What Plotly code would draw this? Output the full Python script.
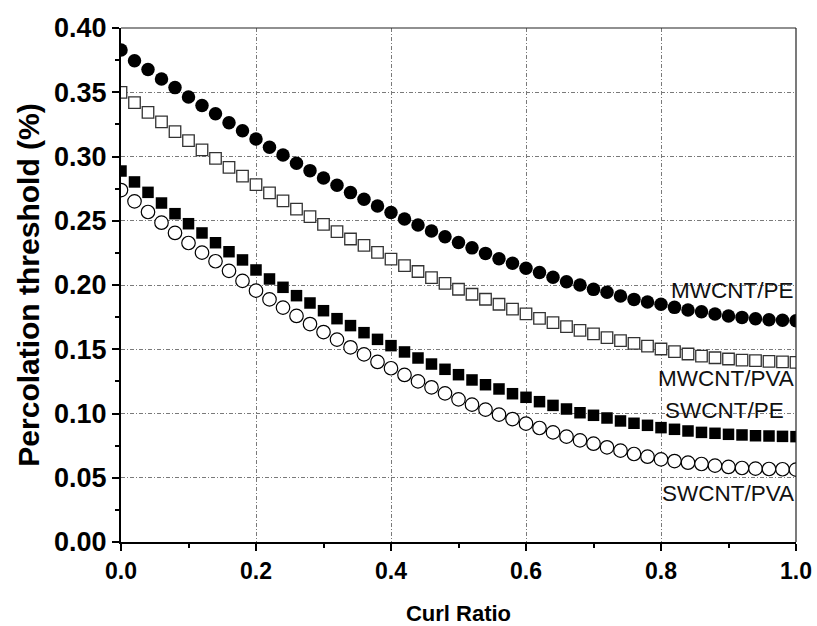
import plotly.graph_objects as go

curl_ratio = [0.00, 0.02, 0.04, 0.06, 0.08, 0.10, 0.12, 0.14, 0.16, 0.18,
              0.20, 0.22, 0.24, 0.26, 0.28, 0.30, 0.32, 0.34, 0.36, 0.38,
              0.40, 0.42, 0.44, 0.46, 0.48, 0.50, 0.52, 0.54, 0.56, 0.58,
              0.60, 0.62, 0.64, 0.66, 0.68, 0.70, 0.72, 0.74, 0.76, 0.78,
              0.80, 0.82, 0.84, 0.86, 0.88, 0.90, 0.92, 0.94, 0.96, 0.98, 1.00]

mwcnt_pe = [0.3829, 0.3745, 0.3677, 0.3603, 0.3536, 0.3463, 0.3397, 0.3332, 0.3263, 0.3200,
            0.3136, 0.3072, 0.3012, 0.2947, 0.2890, 0.2833, 0.2776, 0.2719, 0.2667, 0.2615,
            0.2565, 0.2514, 0.2467, 0.2420, 0.2376, 0.2331, 0.2289, 0.2246, 0.2205, 0.2169,
            0.2131, 0.2097, 0.2060, 0.2026, 0.2000, 0.1966, 0.1943, 0.1914, 0.1888, 0.1868,
            0.1850, 0.1826, 0.1805, 0.1792, 0.1774, 0.1759, 0.1748, 0.1738, 0.1730, 0.1725, 0.1722]

mwcnt_pva = [0.3499, 0.3420, 0.3344, 0.3270, 0.3193, 0.3123, 0.3051, 0.2986, 0.2916, 0.2848,
             0.2781, 0.2717, 0.2654, 0.2591, 0.2532, 0.2472, 0.2415, 0.2358, 0.2308, 0.2254,
             0.2202, 0.2151, 0.2105, 0.2057, 0.2013, 0.1967, 0.1928, 0.1889, 0.1850, 0.1812,
             0.1775, 0.1741, 0.1707, 0.1676, 0.1647, 0.1619, 0.1590, 0.1567, 0.1546, 0.1525,
             0.1502, 0.1481, 0.1463, 0.1447, 0.1434, 0.1424, 0.1416, 0.1411, 0.1406, 0.1401, 0.1398]

swcnt_pe = [0.2887, 0.2802, 0.2721, 0.2638, 0.2555, 0.2477, 0.2405, 0.2329, 0.2259, 0.2195,
            0.2117, 0.2047, 0.1982, 0.1917, 0.1860, 0.1800, 0.1738, 0.1684, 0.1629, 0.1577,
            0.1528, 0.1479, 0.1432, 0.1385, 0.1344, 0.1302, 0.1261, 0.1224, 0.1191, 0.1154,
            0.1126, 0.1092, 0.1063, 0.1035, 0.1006, 0.0986, 0.0965, 0.0942, 0.0924, 0.0908,
            0.0890, 0.0877, 0.0864, 0.0853, 0.0846, 0.0838, 0.0833, 0.0827, 0.0825, 0.0822, 0.0820]

swcnt_pva = [0.2739, 0.2651, 0.2568, 0.2485, 0.2405, 0.2327, 0.2252, 0.2185, 0.2110, 0.2032,
             0.1956, 0.1888, 0.1824, 0.1759, 0.1696, 0.1634, 0.1575, 0.1515, 0.1460, 0.1401,
             0.1352, 0.1300, 0.1250, 0.1204, 0.1157, 0.1110, 0.1069, 0.1030, 0.0991, 0.0957,
             0.0921, 0.0887, 0.0853, 0.0820, 0.0791, 0.0765, 0.0737, 0.0711, 0.0685, 0.0664,
             0.0643, 0.0630, 0.0617, 0.0607, 0.0594, 0.0584, 0.0576, 0.0571, 0.0568, 0.0566, 0.0563]

series_names = ["MWCNT/PE", "MWCNT/PVA", "SWCNT/PE", "SWCNT/PVA"]
label_x = [1.0, 1.0, 1.0, 1.0]
label_shift = [0, 0, -10, 0]
label_y = [0.196, 0.1276, 0.1027, 0.038]

x_ticks = [0.0, 0.2, 0.4, 0.6, 0.8, 1.0]
y_ticks = [0.00, 0.05, 0.10, 0.15, 0.20, 0.25, 0.30, 0.35, 0.40]

FONT = "Liberation Sans, Arial, sans-serif"

fig = go.Figure()
styles = [
    (mwcnt_pe, dict(symbol="circle", size=13.5, color="black", line=dict(color="black", width=0))),
    (mwcnt_pva, dict(symbol="square", size=11.5, color="white", line=dict(color="#333333", width=1.3))),
    (swcnt_pe, dict(symbol="square", size=11.5, color="black", line=dict(color="black", width=0))),
    (swcnt_pva, dict(symbol="circle", size=13.5, color="white", line=dict(color="black", width=1.2))),
]
for name, (vals, mk) in zip(series_names, styles):
    fig.add_trace(go.Scatter(x=curl_ratio, y=vals, mode="markers", name=name,
                             marker=mk, cliponaxis=True, showlegend=False))

for name, lx, sh, ly in zip(series_names, label_x, label_shift, label_y):
    fig.add_annotation(x=lx, y=ly, xshift=sh, text=name, showarrow=False, xanchor="right",
                       yanchor="middle", font=dict(family=FONT, size=22.5, color="#111111"))

# thin top / right frame
fig.add_shape(type="line", xref="paper", yref="paper", x0=0, x1=1, y0=1, y1=1,
              line=dict(color="#222222", width=1.2))
fig.add_shape(type="line", xref="paper", yref="paper", x0=1, x1=1, y0=0, y1=1,
              line=dict(color="#222222", width=1.2))

grid = dict(showgrid=True, gridcolor="#7a7a7a", gridwidth=1, griddash="4px,2px,1px,2px")

fig.update_xaxes(range=[0, 1], tickvals=x_ticks, ticktext=[f"{v:.1f}" for v in x_ticks],
                 ticks="outside", ticklen=7, tickwidth=2, tickcolor="black",
                 showline=True, linecolor="black", linewidth=2, zeroline=False, automargin=False,
                 minor=dict(dtick=0.1, ticks="outside", ticklen=4, tickwidth=2, tickcolor="black", showgrid=False),
                 tickfont=dict(family=FONT, size=23, color="black", weight="bold"),
                 title=dict(text="<b>Curl Ratio</b>", font=dict(family=FONT, size=22, color="black"), standoff=25),
                 **grid)
fig.update_yaxes(range=[0, 0.40], tickvals=y_ticks, ticktext=[f"{v:.2f}" for v in y_ticks],
                 ticks="outside", ticklen=7, tickwidth=2, tickcolor="black",
                 showline=True, linecolor="black", linewidth=2, zeroline=False, automargin=False,
                 minor=dict(dtick=0.025, ticks="outside", ticklen=4, tickwidth=2, tickcolor="black", showgrid=False),
                 tickfont=dict(family=FONT, size=27, color="black", weight="bold"),
                 title=dict(text="<b>Percolation threshold (%)</b>", font=dict(family=FONT, size=30, color="black"), standoff=6),
                 **grid)

fig.update_layout(width=817, height=626, margin=dict(l=121, r=21, t=28, b=84),
                  plot_bgcolor="white", paper_bgcolor="white")

fig.write_html("out.html")
